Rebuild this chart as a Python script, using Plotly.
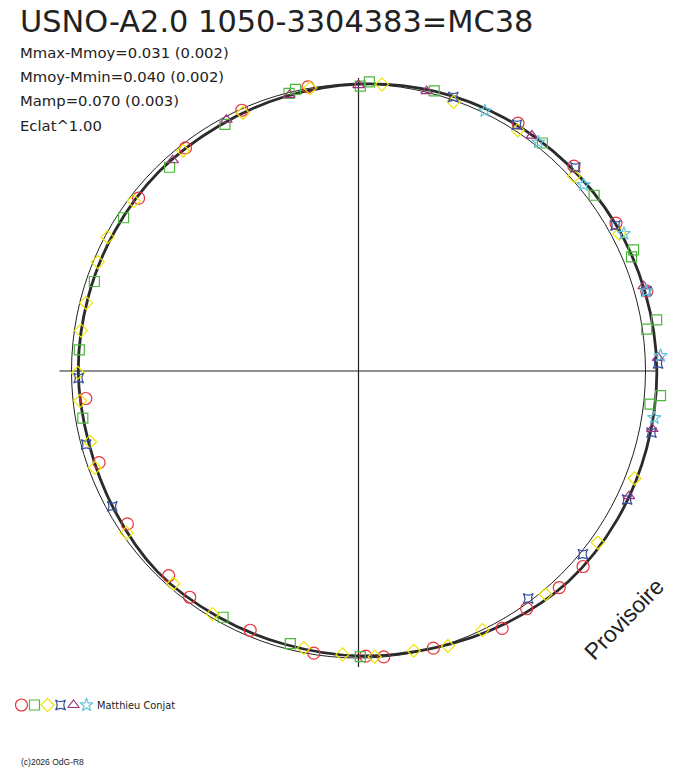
import numpy as np
import plotly.graph_objects as go

TITLE = "USNO-A2.0 1050-3304383=MC38"
STATS = [
    "Mmax-Mmoy=0.031 (0.002)",
    "Mmoy-Mmin=0.040 (0.002)",
    "Mamp=0.070 (0.003)",
    "Eclat^1.00",
]
OBSERVER = "Matthieu Conjat"
COPYRIGHT = "(c)2026 OdG-R8"
WATERMARK = "Provisoire"
ECLAT_POW = 1.00

# model light curve: phase (0..1, counter-clockwise from the right) and mag - mean mag
curve_phase = [0.000, 0.042, 0.083, 0.125, 0.167, 0.208, 0.250, 0.292, 0.333, 0.375, 0.417, 0.458,
               0.500, 0.542, 0.583, 0.625, 0.667, 0.708, 0.750, 0.792, 0.833, 0.875, 0.917, 0.958]
curve_dmag = [-0.042, -0.038, -0.034, -0.026, -0.019, -0.011, 0.000, 0.011, 0.019, 0.019, 0.023, 0.026,
              0.026, 0.030, 0.023, 0.011, 0.015, 0.015, 0.008, 0.000, -0.019, -0.038, -0.042, -0.042]

# observations, one list pair per series
red_phase = [0.043, 0.083, 0.121, 0.159, 0.278, 0.317, 0.355, 0.394, 0.516, 0.554, 0.593,
             0.631, 0.648, 0.687, 0.725, 0.754, 0.764, 0.792, 0.831, 0.848, 0.869, 0.886]
red_dmag = [-0.045, -0.037, -0.038, -0.029, -0.006, 0.005, 0.018, 0.028, 0.050, 0.046, 0.038,
            0.030, 0.018, 0.023, 0.005, 0.007, 0.000, 0.000, -0.029, -0.016, -0.031, -0.040]

green_phase = [0.023, 0.027, 0.063, 0.066, 0.102, 0.142, 0.208, 0.244, 0.249, 0.285, 0.289,
               0.329, 0.369, 0.408, 0.448, 0.488, 0.527, 0.670, 0.711, 0.751, 0.982, 0.987]
green_dmag = [-0.016, -0.057, -0.033, -0.050, -0.026, -0.022, -0.012, -0.009, 0.008, -0.006, 0.003,
              0.025, 0.035, 0.025, 0.031, 0.027, 0.028, 0.023, 0.023, 0.005, -0.024, -0.059]

yellow_phase = [0.077, 0.117, 0.157, 0.196, 0.237, 0.277, 0.317, 0.357, 0.397, 0.422, 0.437,
                0.461, 0.477, 0.501, 0.517, 0.541, 0.556, 0.597, 0.636, 0.664, 0.719, 0.741,
                0.759, 0.781, 0.800, 0.821, 0.861, 0.901, 0.941]
yellow_dmag = [-0.029, -0.013, -0.006, 0.006, -0.002, 0.000, 0.016, 0.021, 0.020, 0.010, 0.017,
               0.024, 0.025, 0.024, 0.027, 0.036, 0.024, 0.016, 0.019, 0.013, 0.017, 0.012,
               0.003, 0.007, -0.008, -0.001, -0.016, -0.028, -0.034]

blue_phase = [0.004, 0.043, 0.082, 0.120, 0.159, 0.197, 0.504, 0.542, 0.580, 0.852, 0.891, 0.929, 0.967]
blue_dmag = [-0.047, -0.043, -0.031, -0.039, -0.022, -0.011, 0.027, 0.019, 0.023, 0.012, -0.010, -0.040, -0.046]

purple_phase = [0.007, 0.046, 0.149, 0.212, 0.250, 0.289, 0.327, 0.365, 0.931, 0.969]
purple_dmag = [-0.048, -0.039, -0.020, -0.004, 0.004, 0.009, 0.012, 0.023, -0.041, -0.046]

cyan_phase = [0.008, 0.043, 0.076, 0.110, 0.144, 0.178, 0.975]
cyan_dmag = [-0.057, -0.043, -0.044, -0.019, -0.015, -0.008, -0.046]

W, H = 688, 768
CX, CY = 358.5, 371.0   # pixel position of the centre
R_PX = 287.0            # pixels for the mean-brightness radius
FONT = "DejaVu Sans, Liberation Sans, sans-serif"
SMALL_FONT = "Liberation Sans, Arial, sans-serif"
INK = "#222222"


def _to_xy(phase, dmag):
    a = 2 * np.pi * np.asarray(phase)
    r = (10 ** (-0.4 * np.asarray(dmag))) ** ECLAT_POW
    return r * np.cos(a), r * np.sin(a)


series = [
    (red_phase, red_dmag, "circle-open", "#e8323a", 12),
    (green_phase, green_dmag, "square-open", "#4cb83c", 10),
    (yellow_phase, yellow_dmag, "diamond-open", "#f0e400", 10),
    (blue_phase, blue_dmag, "star-square-open", "#34509e", 9),
    (purple_phase, purple_dmag, "triangle-up-open", "#a2307e", 10),
    (cyan_phase, cyan_dmag, "star-open", "#62c6da", 10),
]

fig = go.Figure()

cx, cy = _to_xy(curve_phase + curve_phase[:1], curve_dmag + curve_dmag[:1])
fig.add_trace(go.Scatter(
    x=cx, y=cy, mode="lines", line=dict(color="#2b2b2b", width=2.8, shape="spline"),
    hoverinfo="skip", showlegend=False,
))

for phase, dmag, symbol, color, size in series:
    x, y = _to_xy(phase, dmag)
    fig.add_trace(go.Scatter(
        x=x, y=y, mode="markers", showlegend=False, cliponaxis=False,
        marker=dict(symbol=symbol, size=size, color=color, line=dict(color=color, width=1.2)),
    ))

# symbol key at the bottom left
for i, (_, _, symbol, color, size) in enumerate(series):
    fig.add_trace(go.Scatter(
        x=[i], y=[0], xaxis="x2", yaxis="y2", mode="markers", showlegend=False,
        marker=dict(symbol=symbol, size=size, color=color, line=dict(color=color, width=1.2)),
    ))

# mean circle and axes cross
fig.add_shape(type="circle", x0=-1, y0=-1, x1=1, y1=1, line=dict(color=INK, width=1), layer="below")
fig.add_shape(type="line", x0=-1.042, x1=1.042, y0=0, y1=0, line=dict(color=INK, width=1.2), layer="below")
fig.add_shape(type="line", x0=0, x1=0, y0=-1.031, y1=1.021, line=dict(color=INK, width=1.2), layer="below")

fig.add_annotation(text=TITLE, xref="paper", yref="paper", x=18 / W, y=1 - 21 / H,
                   xanchor="left", yanchor="middle", showarrow=False,
                   font=dict(family=FONT, size=30.4, color=INK))
for i, line in enumerate(STATS):
    fig.add_annotation(text=line, xref="paper", yref="paper", x=18 / W, y=1 - (52 + 24.5 * i) / H,
                       xanchor="left", yanchor="middle", showarrow=False,
                       font=dict(family=FONT, size=14.8, color=INK))
fig.add_annotation(text=OBSERVER, xref="paper", yref="paper", x=95 / W, y=1 - 705 / H,
                   xanchor="left", yanchor="middle", showarrow=False,
                   font=dict(family=FONT, size=9.8, color=INK))
fig.add_annotation(text=COPYRIGHT, xref="paper", yref="paper", x=19 / W, y=1 - 762 / H,
                   xanchor="left", yanchor="middle", showarrow=False,
                   font=dict(family=SMALL_FONT, size=8.5, color=INK))
fig.add_annotation(text=WATERMARK, xref="paper", yref="paper", x=624 / W, y=1 - 619 / H,
                   xanchor="center", yanchor="middle", showarrow=False, textangle=-46,
                   font=dict(family=SMALL_FONT, size=23, color=INK))

fig.update_layout(
    width=W, height=H, autosize=False,
    margin=dict(l=0, r=0, t=0, b=0, pad=0),
    paper_bgcolor="white", plot_bgcolor="white",
    xaxis=dict(range=[-CX / R_PX, (W - CX) / R_PX], visible=False, fixedrange=True),
    yaxis=dict(range=[-(H - CY) / R_PX, CY / R_PX], visible=False, fixedrange=True),
    xaxis2=dict(domain=[15 / W, 93 / W], range=[-0.5, 5.5], anchor="y2", visible=False),
    yaxis2=dict(domain=[1 - 713 / H, 1 - 697 / H], range=[-1, 1], anchor="x2", visible=False),
    showlegend=False,
)

fig.write_html("out.html", config={"displayModeBar": False},
               post_script="document.body.style.margin='0px';")
